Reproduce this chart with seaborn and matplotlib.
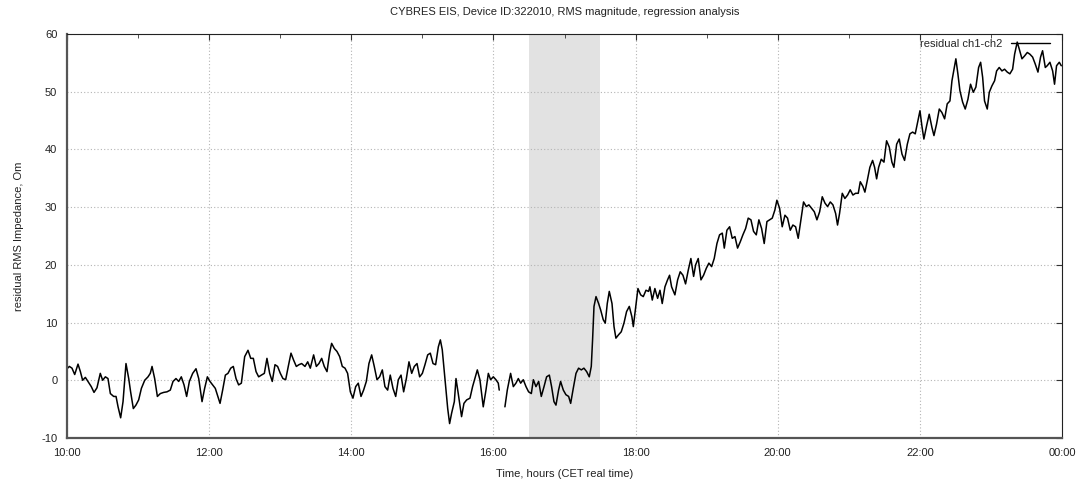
import numpy as np
import pandas as pd
import matplotlib
matplotlib.use("Agg")
import matplotlib.pyplot as plt
import seaborn as sns
from matplotlib.lines import Line2D
from matplotlib.ticker import MultipleLocator, FuncFormatter

# ------------------------------------
# DATA
# minutes after 10:00, residual ch1-ch2 in Om
# ------------------------------------

# part before the short gap near 16:05
minutes_a = [0, 2.0, 4.2, 6.5, 9.3, 11.3, 13.2, 15.5, 17.7, 20.5, 22.8, 25.3, 28.1, 30.1, 32.4, 34.6,
             36.6, 39.4, 41.4, 43.1, 45.3, 47.3, 49.8, 52.1, 53.7, 56.0, 58.2, 60.5, 62.8, 65.6, 68.4,
             70.3, 71.8, 74.0, 76.3, 78.8, 81.6, 84.4, 87.2, 89.5, 92.0, 94.3, 96.5, 98.8, 101.0, 103.3,
             106.1, 108.9, 111.2, 114.0, 116.2, 118.5, 120.7, 123.0, 125.2, 126.9, 129.2, 131.4, 133.7,
             135.9, 138.2, 140.4, 142.7, 144.9, 147.2, 150.0, 152.8, 155.1, 157.3, 159.6, 161.8, 164.1,
             166.6, 168.8, 171.1, 173.3, 175.6, 177.8, 180.1, 182.3, 184.6, 186.8, 189.1, 191.3, 193.6,
             195.8, 198.1, 200.9, 203.2, 205.4, 208.2, 210.5, 212.7, 215.0, 217.2, 219.5, 221.7, 223.4,
             225.7, 227.9, 230.2, 232.4, 234.7, 236.9, 239.2, 241.4, 243.7, 245.9, 248.2, 250.4, 252.7,
             254.9, 257.2, 259.4, 261.7, 263.9, 266.2, 268.4, 270.7, 272.9, 275.2, 277.5, 279.7, 282.0,
             284.2, 286.5, 288.7, 291.0, 293.2, 295.5, 297.7, 300.0, 302.2, 304.5, 306.7, 309.0, 311.2,
             313.5, 315.2, 316.8, 319.1, 321.4, 323.0, 324.7, 327.0,
             328.4, 330.3, 333.1, 335.1, 337.4, 340.2, 342.4, 346.4, 348.6, 351.4, 353.7, 355.7, 357.6,
             359.9, 362.1, 364.1, 364.9]
residual_a = [2.0, 2.4, 2.1, 1.0, 2.8, 1.5, 0.0, 0.5, -0.2, -1.1, -2.1, -1.3, 1.2, 0.0, 0.6, 0.3,
              -2.3, -2.8, -2.8, -4.6, -6.5, -3.7, 2.9, 0.3, -2.0, -4.9, -4.3, -3.4, -1.4, 0.0, 0.6,
              1.2, 2.4, 0.3, -2.8, -2.3, -2.1, -2.0, -1.7, -0.2, 0.3, -0.2, 0.6, -0.8, -2.8, -0.2,
              1.2, 2.0, 0.3, -3.7, -1.4, 0.6, -0.2, -0.8, -1.4, -2.5, -4.0, -1.7, 0.9,
              1.2, 2.1, 2.4, 0.3, -0.8, -0.5, 4.1, 5.2, 3.8, 3.8, 1.5, 0.6, 0.9,
              1.2, 3.8, 1.2, -0.2, 2.7, 2.4, 1.2, 0.3, 0.1, 2.4, 4.7, 3.5, 2.4,
              2.7, 2.9, 2.4, 3.2, 2.1, 4.4, 2.4, 2.9, 3.8, 2.4, 1.5, 4.7, 6.4,
              5.5, 5.0, 4.1, 2.4, 2.1, 1.2, -2.0, -3.1, -1.1, -0.5, -2.8, -1.7, -0.2,
              2.9, 4.4, 2.4, 0.1, 0.6, 1.8, -1.1, -1.7, 0.9, -1.4, -2.8, 0.1, 0.9,
              -2.0, 0.3, 3.2, 1.2, 2.4, 2.9, 0.6, 1.2, 2.7, 4.4, 4.7, 2.9, 2.7,
              5.8, 7.0, 5.3, 0.1, -4.9, -7.5, -5.7, -3.7,
              0.3, -2.3, -6.3, -4.0, -3.4, -3.1, -1.1, 1.8, 0.1, -4.6, -1.7, 1.2, 0.1,
              0.6, 0.1, -0.5, -1.7]

# part after the gap up to 00:00
minutes_b = [369.7, 371.7, 374.5, 376.8, 379.0, 381.0, 383.0, 385.2, 387.5, 389.7, 392.0, 393.7,
             395.9, 398.2, 400.4, 402.7, 404.9, 407.2, 409.1, 411.1, 412.8, 415.0, 416.7, 419.0,
             421.2, 423.5, 425.2, 427.4, 429.7, 431.9, 434.2, 436.4, 438.7, 440.9, 442.6, 443.7,
             444.9, 446.6, 448.8, 450.5, 452.7, 454.4, 456.1, 457.8, 460.1, 461.8, 463.4, 465.7,
             467.9, 470.2, 472.4, 474.7, 476.9, 478.1, 479.8, 482.0, 484.3, 486.5, 488.8, 491.0,
             492.1, 494.1, 496.3, 498.6, 500.6, 502.5, 504.8, 507.0, 508.7, 510.4, 513.2, 515.5,
             517.7, 520.0, 522.2, 524.5, 526.7, 529.0, 530.7, 532.9, 535.2, 537.4, 539.7, 541.9,
             544.2, 546.4, 548.7, 550.9, 553.2, 554.9, 557.1, 559.4, 561.6, 563.9, 566.1, 568.4,
             570.6, 572.9, 575.1, 577.4, 579.6, 581.9, 584.1, 586.4, 588.6, 590.9, 593.1, 595.4,
             597.6, 599.3, 601.6, 603.8, 606.1, 608.3, 610.6, 612.8, 615.1, 617.3, 619.6, 621.8,
             624.1, 626.3, 628.6, 630.9, 633.1, 635.4, 637.6, 639.9, 642.1, 644.4, 646.6, 648.9,
             650.5, 652.2, 654.5, 656.7, 659.0, 661.2, 663.5, 665.7, 668.0, 669.7, 671.9, 673.6,
             675.6, 677.8, 680.1, 681.8, 683.5, 685.2, 687.4, 689.7, 691.9, 694.2, 696.4, 698.1,
             700.4, 702.6, 704.9, 707.1, 709.4, 711.6, 713.9, 716.1, 717.8, 720.1, 721.7, 723.4,
             725.7, 727.9, 730.2, 731.9, 734.1, 736.4, 738.6, 740.9, 743.1, 745.4, 747.1, 748.8,
             750.4, 752.1, 753.8, 756.1, 758.3, 760.6, 762.8, 765.1, 767.3, 769.6, 771.3, 773.0,
             774.6, 776.9, 778.6, 780.8, 783.1, 784.8, 787.0, 789.3, 791.5, 793.8, 796.0, 798.3,
             800.0, 802.2, 803.9, 806.2, 808.4, 810.7, 812.9, 815.2, 817.4, 819.7, 821.9, 823.6,
             825.9, 827.5, 829.8, 832.1, 833.7, 835.4, 837.7, 839.4]
residual_b = [-4.6, -1.7, 1.2, -1.1, -0.5, 0.3, -0.5, 0.1, -1.1, -2.0, -2.3, 0.1,
              -1.1, -0.2, -2.8, -1.1, 0.6, 0.9, -1.1, -3.7, -4.3, -1.7, -0.2, -1.7,
              -2.5, -2.8, -4.0, -1.4, 1.2, 2.1, 1.8, 2.1, 1.5, 0.6, 2.4, 7.0,
              12.8, 14.5, 13.3, 12.2, 10.5, 9.9, 13.3, 15.4, 13.3, 9.3, 7.3, 7.9,
              8.4, 9.9, 11.9, 12.8, 11.0, 9.3, 12.2, 15.9, 14.8, 14.5, 15.6, 15.4,
              16.2, 13.9, 15.9, 14.2, 15.6, 13.3, 16.2, 17.4, 18.2, 16.2, 14.8, 17.4,
              18.8, 18.2, 16.7, 19.1, 21.1, 18.0, 20.0, 21.1, 17.4, 18.2, 19.4, 20.3,
              19.7, 21.1, 23.7, 25.2, 25.5, 22.9, 26.0, 26.6, 24.6, 24.9, 22.9, 24.0,
              25.2, 26.3, 28.1, 27.8, 25.8, 25.2, 27.8, 26.3, 23.7, 27.5, 27.8, 28.1,
              29.5, 31.2, 29.8, 26.6, 28.6, 28.1, 26.0, 26.9, 26.6, 24.6, 27.8, 30.9,
              30.1, 30.4, 29.8, 29.2, 27.8, 29.2, 31.8, 30.7, 30.1, 30.9, 30.4, 28.9,
              26.9, 28.9, 32.4, 31.5, 32.1, 33.0, 32.1, 32.4, 32.4, 34.4, 33.6, 32.6,
              34.6, 36.9, 38.1, 36.9, 34.9, 36.9, 38.3, 37.8, 41.5, 40.4, 37.8, 36.9,
              40.9, 41.8, 39.2, 38.1, 40.9, 42.7, 43.0, 42.7, 44.4, 46.7, 44.1, 41.8,
              44.1, 46.1, 43.8, 42.4, 44.4, 47.0, 46.4, 45.3, 47.9, 48.4, 51.9, 53.9,
              55.7, 53.1, 50.2, 48.2, 47.0, 48.7, 51.3, 49.9, 50.8, 54.2, 55.1, 52.5,
              48.4, 47.0, 49.9, 51.0, 51.9, 53.6, 54.2, 53.6, 53.9, 53.4, 53.1, 53.9,
              56.5, 58.6, 57.4, 55.7, 56.2, 56.8, 56.5, 56.0, 54.8, 53.4, 56.0, 57.1,
              54.2, 54.5, 55.1, 53.6, 51.3, 54.5, 55.1, 54.5]

# highlighted interval (hours of day)
shade_from = 16.5
shade_to = 17.5

# ------------------------------------
# PLOT
# ------------------------------------

df = pd.concat([
    pd.DataFrame({"hour": 10 + np.array(minutes_a) / 60, "residual": residual_a, "part": 0}),
    pd.DataFrame({"hour": 10 + np.array(minutes_b) / 60, "residual": residual_b, "part": 1}),
], ignore_index=True)

sns.set_style("white")
plt.rcParams["font.family"] = ["Liberation Sans", "DejaVu Sans"]
plt.rcParams["axes.unicode_minus"] = False

fig = plt.figure(figsize=(10.82, 4.86), dpi=100)
ax = fig.add_axes([67 / 1082, 48 / 486, 995 / 1082, 404 / 486])

ax.axvspan(shade_from, shade_to, color="#e2e2e2", lw=0, zorder=0)
sns.lineplot(data=df, x="hour", y="residual", units="part", estimator=None,
             sort=False, color="black", lw=1.1, ax=ax)

ax.set_xlim(10, 24)
ax.set_ylim(-10, 60)
ax.xaxis.set_major_locator(MultipleLocator(2))
ax.xaxis.set_minor_locator(MultipleLocator(1))
ax.xaxis.set_major_formatter(FuncFormatter(lambda h, pos: f"{int(round(h)) % 24:02d}:00"))
ax.yaxis.set_major_locator(MultipleLocator(10))

ax.grid(True, which="major", ls=(0, (1, 2)), color="#b4b4b4", lw=0.8)
ax.tick_params(which="both", direction="in", top=True, right=True, colors="#333333",
               labelsize=8, labelcolor="#222222")
ax.tick_params(which="major", length=4, pad=7)
ax.tick_params(which="minor", length=3)

for side in ["left", "bottom"]:
    ax.spines[side].set_color("#555555")
    ax.spines[side].set_linewidth(1.6)
for side in ["top", "right"]:
    ax.spines[side].set_color("#222222")
    ax.spines[side].set_linewidth(0.8)

ax.set_title("CYBRES EIS, Device ID:322010, RMS magnitude, regression analysis",
             fontsize=8, pad=14, color="#222222")
ax.set_xlabel("Time, hours (CET real time)", fontsize=8, labelpad=8, color="#222222")
ax.set_ylabel("residual RMS Impedance, Om", fontsize=8, labelpad=12, color="#222222")

handle = Line2D([], [], color="black", lw=1.0)
ax.legend([handle], ["residual ch1-ch2"], loc="upper right", frameon=False,
          markerfirst=False, handlelength=3.5, fontsize=8,
          bbox_to_anchor=(0.995, 1.005), borderaxespad=0.2, handletextpad=0.8)

fig.savefig("out.png", dpi=100)
